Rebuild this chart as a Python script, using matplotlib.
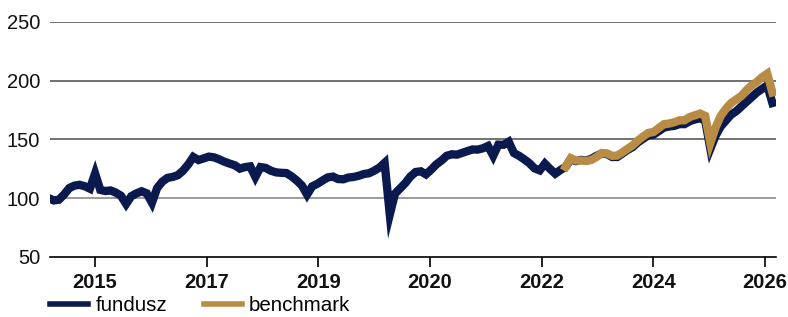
import numpy as np
import matplotlib
matplotlib.use("Agg")
import matplotlib.pyplot as plt

plt.rcParams['font.family'] = ['Liberation Sans', 'DejaVu Sans']

# monthly observations starting Oct 2014 (decimal years)
start_year = 2014.75
fundusz = [
    100, 98, 98.6, 103, 108.5, 110.6, 111.3, 110.1, 108, 121,
    107, 106, 106.5, 104.7, 102, 95, 101.6, 104, 105.8, 104,
    96, 108.5, 114, 117.2, 118, 119.5, 123.3, 128.6, 135, 132.4,
    133.8, 135.3, 134.7, 133, 131, 129.4, 128, 125.1, 126.4, 127,
    118, 126.4, 125.7, 123.3, 121.9, 121.5, 121.3, 118.5, 115, 110.7,
    103, 110, 112.2, 115, 117.6, 118.3, 116.2, 116, 117.5, 118,
    119, 120.5, 121.2, 123.3, 126, 130, 86, 103.7, 108.2, 112.8,
    118.4, 122.2, 122.8, 120.2, 124.2, 128.7, 132, 136, 137.3, 137,
    138.5, 140, 141.4, 141.3, 142.4, 144.4, 136, 145.5, 145.4, 148,
    138.4, 136, 133, 129.7, 125.3, 123.6, 129.3, 124.8, 120.8, 123.9,
    126.6, 133, 131.5, 132.5, 132, 133.5, 136, 138, 137.5, 135,
    135, 138, 141, 143.5, 147.5, 150.5, 153.5, 154, 157, 160,
    161, 161.5, 163, 163, 165.5, 167, 168, 166, 142, 153,
    161, 166, 171, 174, 178, 182, 186, 190, 193, 196,
    181,
]
benchmark_start = 100  # index of first benchmark observation
benchmark = [
    126.6, 134, 132, 132, 131.6, 132.5, 135, 138.4, 138, 136,
    136.2, 139, 142, 145, 149, 152.5, 155.5, 156.3, 159.6, 162.9,
    163.5, 164.6, 166.2, 166.3, 169, 170.5, 172, 170, 147, 160,
    170, 176, 181, 184, 187, 192, 196, 199, 203, 206,
    190,
]

tick_positions = [2015.5, 2017.3, 2019.1, 2020.9, 2022.7, 2024.5, 2026.3]
tick_labels = ['2015', '2017', '2019', '2020', '2022', '2024', '2026']
y_ticks = [50, 100, 150, 200, 250]

navy = '#0b1a4e'
gold = '#b98c45'

t_f = start_year + np.arange(len(fundusz)) / 12.0
t_b = start_year + (benchmark_start + np.arange(len(benchmark))) / 12.0

fig = plt.figure(figsize=(7.88, 3.17), dpi=100)
ax = fig.add_axes([0.0635, 0.190, 0.9209, 0.7406])

for yv in y_ticks[1:]:
    ax.axhline(yv, color='#5a5a5a' if yv != 100 else '#8a8a8a', lw=1.2, zorder=1)

ax.plot(t_f, fundusz, color=navy, lw=6.0, solid_joinstyle='miter', zorder=3, label='fundusz')
ax.plot(t_b, benchmark, color=gold, lw=6.0, solid_joinstyle='miter', zorder=4, label='benchmark')

ax.set_xlim(2014.774, 2026.47)
ax.set_ylim(50, 250)
ax.set_yticks(y_ticks)
ax.set_yticklabels([str(v) for v in y_ticks], fontsize=14.5, color='#111111')
ax.tick_params(axis='y', length=0, pad=7)
ax.set_xticks(tick_positions)
ax.set_xticklabels(tick_labels, fontsize=14.5, fontweight='bold', color='#111111')
ax.tick_params(axis='x', direction='out', length=7, width=1.2, color='black', pad=5)

for s in ['top', 'right', 'left']:
    ax.spines[s].set_visible(False)
ax.spines['bottom'].set_color('black')
ax.spines['bottom'].set_linewidth(1.2)

handles, labels = ax.get_legend_handles_labels()
leg = fig.legend(handles, labels, loc='center left', bbox_to_anchor=(0.0635, 0.036),
                 ncol=2, frameon=False, fontsize=14.8, handlelength=1.85,
                 handletextpad=0.35, columnspacing=1.8, borderpad=0, borderaxespad=0)
for line in leg.get_lines():
    line.set_linewidth(4)

fig.savefig('out.png', dpi=100)
